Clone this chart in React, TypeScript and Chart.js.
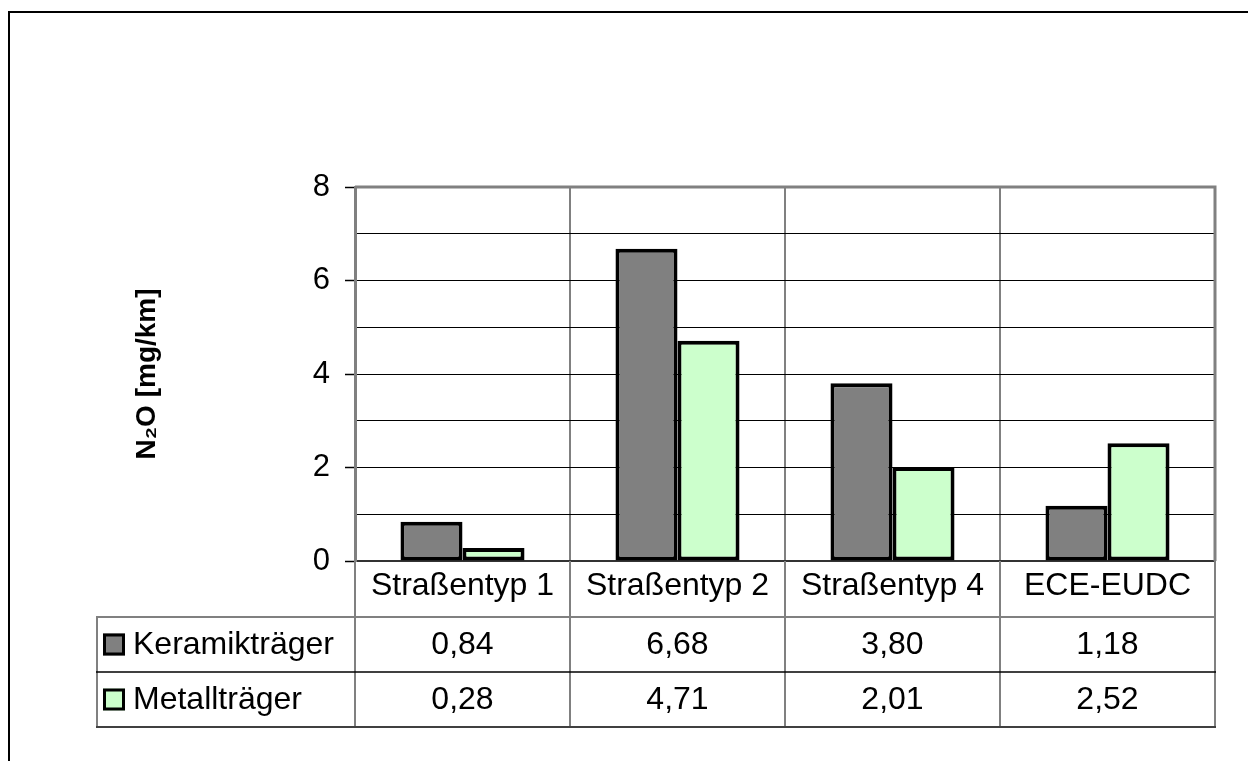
import React, { useEffect, useRef } from 'react';
import { Chart, registerables } from 'chart.js';

Chart.register(...registerables);

const categories = ['Straßentyp 1', 'Straßentyp 2', 'Straßentyp 4', 'ECE-EUDC'];
const seriesNames = ['Keramikträger', 'Metallträger'];
const keramikValues = [0.84, 6.68, 3.8, 1.18];
const metallValues = [0.28, 4.71, 2.01, 2.52];
const seriesColors = ['#808080', '#CCFFCC'];
const yTickLabels = [0, 2, 4, 6, 8];
const yTitle = 'N₂O [mg/km]';

const FONT = "'Liberation Sans', Arial, sans-serif";
const W = 1248;
const H = 761;

const fmt = (v: number) => v.toFixed(2).replace('.', ',');

const frameAndTable = {
  id: 'frameAndTable',
  afterDraw(chart: any) {
    const ctx = chart.ctx as CanvasRenderingContext2D;
    const area = chart.chartArea;
    const n = chart.data.labels.length;
    const cw = (area.right - area.left) / n;
    const headerH = 56;
    const rowH = 55;
    const top = area.bottom;
    const r1 = top + headerH;
    const r2 = r1 + rowH;
    const r3 = r2 + rowH;
    const tableLeft = 97;

    ctx.save();
    // outer frame
    ctx.strokeStyle = '#000';
    ctx.lineWidth = 2;
    ctx.beginPath();
    ctx.moveTo(9, H + 5);
    ctx.lineTo(9, 12);
    ctx.lineTo(W + 5, 12);
    ctx.stroke();

    // vertical column lines in the table
    ctx.strokeStyle = '#808080';
    ctx.lineWidth = 2;
    for (let i = 0; i <= n; i++) {
      const px = Math.round(area.left + i * cw);
      ctx.beginPath();
      ctx.moveTo(px, top);
      ctx.lineTo(px, r3);
      ctx.stroke();
    }
    ctx.beginPath();
    ctx.moveTo(tableLeft, r1);
    ctx.lineTo(tableLeft, r3);
    ctx.stroke();

    // horizontal lines
    const hLine = (y: number, color: string, w: number) => {
      ctx.strokeStyle = color;
      ctx.lineWidth = w;
      ctx.beginPath();
      ctx.moveTo(tableLeft - 1, y);
      ctx.lineTo(Math.round(area.right) + 1, y);
      ctx.stroke();
    };
    hLine(r1, '#808080', 2);
    hLine(r2, '#000', 1.5);
    hLine(r3, '#404040', 2);

    // rows: legend keys + values
    ctx.font = `32px ${FONT}`;
    ctx.fillStyle = '#000';
    ctx.textBaseline = 'middle';
    chart.data.datasets.forEach((ds: any, di: number) => {
      const cy = (di === 0 ? r1 : r2) + rowH / 2;
      // key square
      ctx.fillStyle = ds.backgroundColor;
      ctx.fillRect(103, cy - 11, 22, 22);
      ctx.strokeStyle = '#000';
      ctx.lineWidth = 3;
      ctx.strokeRect(104.5, cy - 9.5, 19, 19);
      ctx.fillStyle = '#000';
      ctx.textAlign = 'left';
      ctx.fillText(ds.label, 133, cy + 1);
      ctx.textAlign = 'center';
      ds.data.forEach((v: number, i: number) => {
        const cx = area.left + (i + 0.5) * cw;
        ctx.fillText(fmt(v), cx, cy + 1);
      });
    });
    ctx.restore();
  },
};

export default function App() {
  const ref = useRef<HTMLCanvasElement | null>(null);

  useEffect(() => {
    if (!ref.current) return;
    const chart = new Chart(ref.current, {
      type: 'bar',
      data: {
        labels: categories,
        datasets: [
          {
            label: seriesNames[0],
            data: keramikValues,
            backgroundColor: seriesColors[0],
            borderColor: '#000',
            borderWidth: 4,
            borderSkipped: false,
          },
          {
            label: seriesNames[1],
            data: metallValues,
            backgroundColor: seriesColors[1],
            borderColor: '#000',
            borderWidth: 4,
            borderSkipped: false,
          },
        ],
      },
      options: {
        animation: false,
        responsive: false,
        devicePixelRatio: 1,
        categoryPercentage: 0.577,
        barPercentage: 1,
        layout: { padding: { left: 0, top: 187, right: 33, bottom: 0 } },
        plugins: {
          legend: { display: false },
          tooltip: { enabled: false },
        },
        scales: {
          x: {
            type: 'category',
            offset: true,
            grid: {
              display: true,
              offset: true,
              color: '#808080',
              lineWidth: 2,
              drawTicks: false,
              drawOnChartArea: true,
            },
            border: { display: true, color: '#333', width: 2 },
            ticks: {
              color: '#000',
              font: { family: FONT, size: 32 },
              padding: 6,
              maxRotation: 0,
              autoSkip: false,
            },
            afterFit: (scale: any) => {
              scale.height = 200;
            },
          },
          y: {
            min: 0,
            max: 8,
            ticks: {
              stepSize: 1,
              color: '#000',
              font: { family: FONT, size: 31 },
              padding: 15,
              callback: (v: any) => (yTickLabels.includes(Number(v)) ? String(v) : ''),
            },
            grid: {
              color: (c: any) => {
                const v = c.tick ? c.tick.value : 0;
                return v === 0 || v === 8 ? 'rgba(0,0,0,0)' : '#000';
              },
              lineWidth: 1,
              tickLength: 10,
              tickColor: (c: any) => {
                const v = c.tick ? c.tick.value : 1;
                return yTickLabels.includes(v) ? '#000' : 'rgba(0,0,0,0)';
              },
              tickWidth: 1.5,
            },
            border: { display: true, color: '#808080', width: 3 },
            title: {
              display: true,
              text: yTitle,
              color: '#000',
              font: { family: FONT, size: 28, weight: 'bold' },
              padding: { top: 130, bottom: 0 },
            },
            afterFit: (scale: any) => {
              scale.width = 355;
            },
          },
        },
      },
      plugins: [
        {
          id: 'plotBorder',
          afterDatasetsDraw(chart: any) {
            const a = chart.chartArea;
            const ctx = chart.ctx;
            ctx.save();
            ctx.strokeStyle = '#808080';
            ctx.lineWidth = 3;
            ctx.beginPath();
            ctx.moveTo(a.left, a.top);
            ctx.lineTo(a.right, a.top);
            ctx.lineTo(a.right, a.bottom);
            ctx.stroke();
            ctx.restore();
          },
        },
        frameAndTable,
      ],
    } as any);
    return () => chart.destroy();
  }, []);

  return (
    <div style={{ position: 'fixed', left: 0, top: 0, width: W, height: H, background: '#fff' }}>
      <canvas ref={ref} width={W} height={H} style={{ display: 'block', width: W, height: H }} />
    </div>
  );
}
